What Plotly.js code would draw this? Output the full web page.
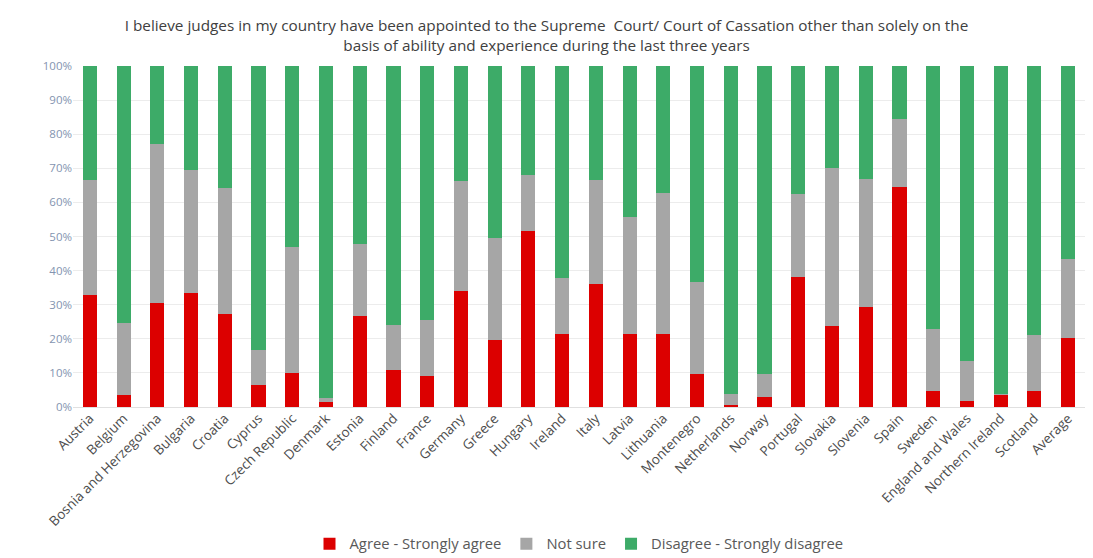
<!DOCTYPE html>
<html>
<head>
<meta charset="utf-8">
<script src="https://cdn.plot.ly/plotly-3.0.1.min.js"></script>
<style>html,body{margin:0;padding:0;background:#fff;}#chart{width:1093px;height:558px;}</style>
</head>
<body>
<div id="chart"></div>
<script>
const categories = ["Austria","Belgium","Bosnia and Herzegovina","Bulgaria","Croatia","Cyprus","Czech Republic","Denmark","Estonia","Finland","France","Germany","Greece","Hungary","Ireland","Italy","Latvia","Lithuania","Montenegro","Netherlands","Norway","Portugal","Slovakia","Slovenia","Spain","Sweden","England and Wales","Northern Ireland","Scotland","Average"];
const agree = [32.7,3.6,30.5,33.4,27.4,6.4,10.0,1.5,26.6,10.8,9.0,34.0,19.6,51.5,21.3,36.2,21.5,21.5,9.6,0.5,2.9,38.1,23.9,29.3,64.5,4.7,1.8,3.6,4.7,20.3];
const notSure = [33.8,21.0,46.7,36.0,36.8,10.2,36.9,1.1,21.3,13.2,16.4,32.2,30.0,16.6,16.5,30.5,34.2,41.3,27.1,3.2,6.9,24.5,46.2,37.7,20.1,18.3,11.6,0.3,16.3,23.2];
const disagree = [33.5,75.4,22.8,30.6,35.8,83.4,53.1,97.4,52.1,76.0,74.6,33.8,50.4,31.9,62.2,33.3,44.3,37.2,63.3,96.3,90.2,37.4,29.9,33.0,15.4,77.0,86.6,96.1,79.0,56.5];
const seriesNames = ["Agree - Strongly agree","Not sure","Disagree - Strongly disagree"];
const titleText = "I believe judges in my country have been appointed to the Supreme  Court/ Court of Cassation other than solely on the<br>basis of ability and experience during the last three years";

const colors = ["#dc0000","#a6a6a6","#3dab68"];
const vals = [agree, notSure, disagree];
const traces = vals.map((v,i)=>({
  type:'bar', x:categories, y:v, name:seriesNames[i],
  marker:{color:colors[i], line:{width:0}},
  hoverinfo:'x+y+name'
}));

const layout = {
  width:1093, height:558,
  paper_bgcolor:'#ffffff', plot_bgcolor:'#ffffff',
  margin:{l:73, r:8, t:66, b:151, autoexpand:false},
  barmode:'stack', bargap:0.58,
  font:{family:'"Open Sans", "Noto Sans", sans-serif', size:11, color:'#595959'},
  title:{text:titleText, x:0.5, xanchor:'center', y:0.945, yanchor:'top',
         font:{family:'"Open Sans", "Noto Sans", sans-serif', size:15.3, color:'#404040'}},
  xaxis:{tickangle:-45, tickfont:{size:13.5, color:'#4d4d4d'}, showgrid:false, showline:false, ticks:'', automargin:false},
  yaxis:{range:[0,100], dtick:10, ticksuffix:'%', tickfont:{size:11.5, color:'#8494b0'},
         showgrid:true, gridcolor:'#ececec', gridwidth:1, zeroline:true, zerolinecolor:'#e0e0e0', showline:false, ticks:'', automargin:false},
  showlegend:true,
  legend:{orientation:'h', x:0.5, xanchor:'center', yref:'container', y:0.025, yanchor:'middle',
          font:{size:14.8, color:'#595959'}, traceorder:'normal', itemwidth:30},
};
Plotly.newPlot('chart', traces, layout, {displayModeBar:false, staticPlot:true});
</script>
</body>
</html>
